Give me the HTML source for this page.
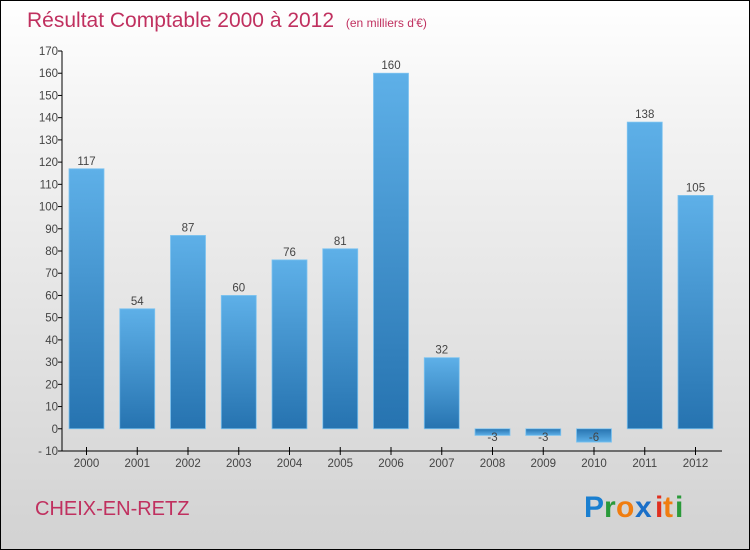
<!DOCTYPE html>
<html><head><meta charset="utf-8"><style>
body{margin:0;}
#wrap{width:748px;height:548px;border:1px solid #000;background:linear-gradient(#ffffff,#f4f4f4 20%,#d2d2d2);position:relative;overflow:hidden;font-family:"Liberation Sans",sans-serif;}
</style></head><body>
<div id="wrap">
<svg id="chart" width="748" height="548">
<defs>
<linearGradient id="bg" x1="0" y1="0" x2="0" y2="1"><stop offset="0" stop-color="#5eb0e8"/><stop offset="1" stop-color="#2673b0"/></linearGradient>
<linearGradient id="bgn" x1="0" y1="0" x2="0" y2="1"><stop offset="0" stop-color="#2673b0"/><stop offset="1" stop-color="#5eb0e8"/></linearGradient>
</defs>
<text x="26" y="26" font-size="21" fill="#c0305f">Résultat Comptable 2000 à 2012 <tspan font-size="12" dx="6">(en milliers d'€)</tspan></text>
<g id="grid"></g>
<g id="bars"></g>
<g id="axes"></g>
<text x="34" y="514" font-size="20" fill="#c0305f">CHEIX-EN-RETZ</text>
<g font-size="30" font-weight="bold" font-family="Liberation Sans, sans-serif">
<text x="583" y="516" fill="#1a7fd0">P</text><text x="603" y="516" fill="#2a9a3a">r</text><text x="615" y="516" fill="#f07d10">o</text><text x="634" y="516" fill="#1a6fc8">x</text><text x="654" y="516" fill="#e03020">i</text><text x="662" y="516" fill="#f07d10">t</text><text x="674" y="516" fill="#2a9a3a">i</text>
</g>
</svg>
</div>
<script>
const categories=["2000","2001","2002","2003","2004","2005","2006","2007","2008","2009","2010","2011","2012"];
const values=[117,54,87,60,76,81,160,32,-3,-3,-6,138,105];
const yTicks=[-10,0,10,20,30,40,50,60,70,80,90,100,110,120,130,140,150,160,170];
const NS="http://www.w3.org/2000/svg";
const yMin=-10,yMax=170,plotTop=50,plotBot=450,plotLeft=61,plotRight=721;
function yScale(v){return plotBot-(v-yMin)/(yMax-yMin)*(plotBot-plotTop);}
const step=50.75,x0=85.5;
function xScale(i){return x0+i*step;}
function mk(t,a,p){const e=document.createElementNS(NS,t);for(const k in a)e.setAttribute(k,a[k]);p.appendChild(e);return e;}
const axesG=document.getElementById('axes'),barsG=document.getElementById('bars');
values.forEach((v,i)=>{
  const y0=yScale(0),yv=yScale(v);
  const r=mk('rect',{x:xScale(i)-17.5,y:Math.min(y0,yv),width:35,height:Math.abs(y0-yv),fill:v<0?'url(#bgn)':'url(#bg)',stroke:'#7ec4f0','stroke-width':0.8},barsG);
  
  
  const t=mk('text',{x:xScale(i),y:v<0?y0+12:yv-4,'text-anchor':'middle','font-size':11.5,fill:'#444'},barsG);
  t.textContent=v;
  
  
  const lt=mk('text',{x:xScale(i),y:plotBot+16,'text-anchor':'middle','font-size':11.5,fill:'#444'},axesG);
  lt.textContent=categories[i];
  
  
  mk('line',{x1:xScale(i),x2:xScale(i),y1:plotBot-4,y2:plotBot+4,stroke:'#000'},axesG);
});
yTicks.forEach(v=>{
  mk('line',{x1:plotLeft-4,x2:plotLeft,y1:yScale(v),y2:yScale(v),stroke:'#000'},axesG);
  const t=mk('text',{x:plotLeft-4,y:yScale(v)+4,'text-anchor':'end','font-size':11.5,fill:'#444'},axesG);
  t.textContent=v<0?'- '+(-v):v;
  
  
});
const ya=mk('line',{x1:plotLeft,x2:plotLeft,y1:plotTop,y2:plotBot,stroke:'#000'},axesG);

const xa=mk('line',{x1:plotLeft,x2:plotRight,y1:plotBot,y2:plotBot,stroke:'#000'},axesG);

</script>
</body></html>
